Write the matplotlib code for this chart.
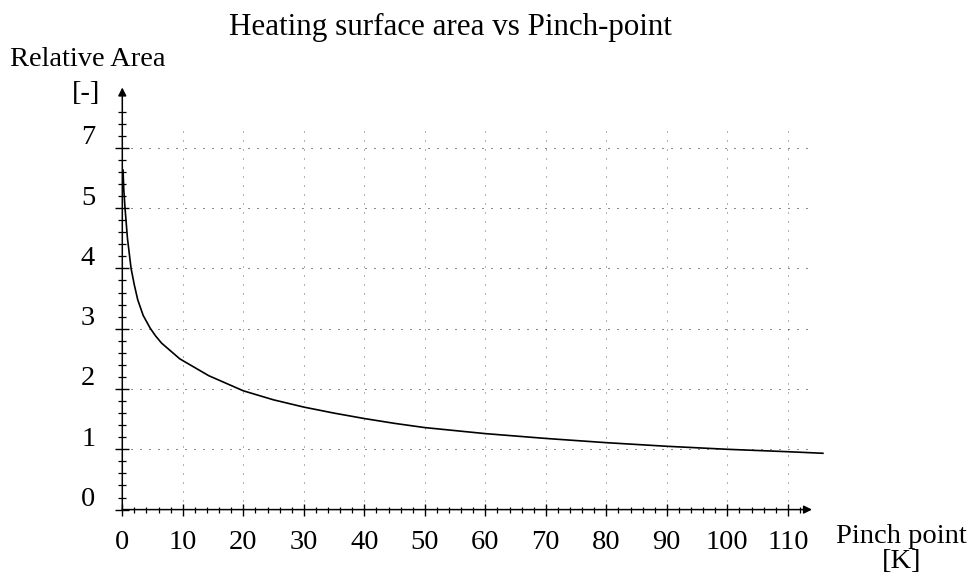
import matplotlib
matplotlib.use("Agg")
import matplotlib.pyplot as plt
from matplotlib.transforms import ScaledTranslation

plt.rcParams["font.family"] = ["Liberation Serif", "DejaVu Serif"]

# Curve: pinch point [K] vs relative area [-]
pinch = [0.12, 0.25, 0.45, 0.85, 1.45, 2.0, 2.55, 3.45, 4.6, 5.5, 6.5, 9.5,
         14.3, 20, 25, 30, 35, 40, 45, 50, 60, 70, 80, 90, 100, 110, 115.8]
area = [5.63, 5.3, 5.0, 4.5, 4.0, 3.72, 3.48, 3.22, 3.01, 2.88, 2.76, 2.5,
        2.22, 1.97, 1.82, 1.70, 1.60, 1.51, 1.43, 1.36, 1.26, 1.18, 1.11,
        1.05, 1.00, 0.96, 0.934]

# Axis ticks and labels (the y labels skip "6" in the original)
x_major = [0, 10, 20, 30, 40, 50, 60, 70, 80, 90, 100, 110]
x_labels = [str(v) for v in x_major]
x_minor = [v for v in range(2, 114, 2) if v % 10]
y_major = [0, 1, 2, 3, 4, 5, 6]
y_labels = ["0", "1", "2", "3", "4", "5", "7"]
y_minor = [i / 5 for i in range(1, 34) if i % 5]

# Dotted grid
x_grid = [10, 20, 30, 40, 50, 60, 70, 80, 90, 100, 110]
y_grid = [1, 2, 3, 4, 5, 6]

fig = plt.figure(figsize=(9.78, 5.84), dpi=100)
ax = fig.add_axes([0.12505, 0.1274, 0.7176, 0.7228])
ax.set_xlim(0, 116)
ax.set_ylim(0, 7)
ax.patch.set_visible(False)
for s in ax.spines.values():
    s.set_visible(False)

# grid
ax.vlines(x_grid, 0, 6.4, colors="0.4", linewidth=0.72,
          linestyles=(0, (1, 8)), zorder=1)
ax.hlines(y_grid, 0, 114, colors="0.1", linewidth=0.72,
          linestyles=(0, (1, 8)), zorder=1)

# curve
ax.plot(pinch, area, color="black", linewidth=1.2, clip_on=False, zorder=3)

# axes with arrows
arrow = dict(arrowstyle="-|>", color="black", lw=1.1, mutation_scale=12,
             shrinkA=0, shrinkB=0)
ax.annotate("", xy=(114, 0), xytext=(0, 0), arrowprops=arrow,
            annotation_clip=False)
ax.annotate("", xy=(0, 7.0), xytext=(0, 0), arrowprops=arrow,
            annotation_clip=False)

# ticks
ax.set_xticks(x_major, x_labels)
ax.set_xticks(x_minor, minor=True)
ax.set_yticks(y_major, y_labels, va="baseline")
ax.set_yticks(y_minor, minor=True)
ax.tick_params(axis="x", which="major", direction="inout", length=8,
               width=1.0, pad=10.5, labelsize=20.5)
ax.tick_params(axis="x", which="minor", direction="inout", length=4.5,
               width=0.9)
ax.tick_params(axis="y", which="major", direction="inout", length=10,
               width=1.0, pad=14.5, labelsize=20.5)
ax.tick_params(axis="y", which="minor", direction="inout", length=5.5,
               width=0.9)
lift = ScaledTranslation(0, 3.5 / 100, fig.dpi_scale_trans)
for lab in ax.get_yticklabels():
    lab.set_transform(lab.get_transform() + lift)

# texts
fig.text(450 / 978, 1 - 35 / 584, "Heating surface area vs Pinch-point",
         ha="center", va="baseline", fontsize=22.3)
fig.text(10 / 978, 1 - 66 / 584, "Relative Area", ha="left",
         va="baseline", fontsize=20.5)
fig.text(100 / 978, 1 - 100 / 584, "[-]", ha="right", va="baseline",
         fontsize=20.5)
fig.text(901 / 978, 1 - 543 / 584, "Pinch point", ha="center",
         va="baseline", fontsize=20.5)
fig.text(902 / 978, 1 - 568 / 584, "[K]", ha="center", va="baseline",
         fontsize=20.5)

fig.savefig("out.png", dpi=100)
